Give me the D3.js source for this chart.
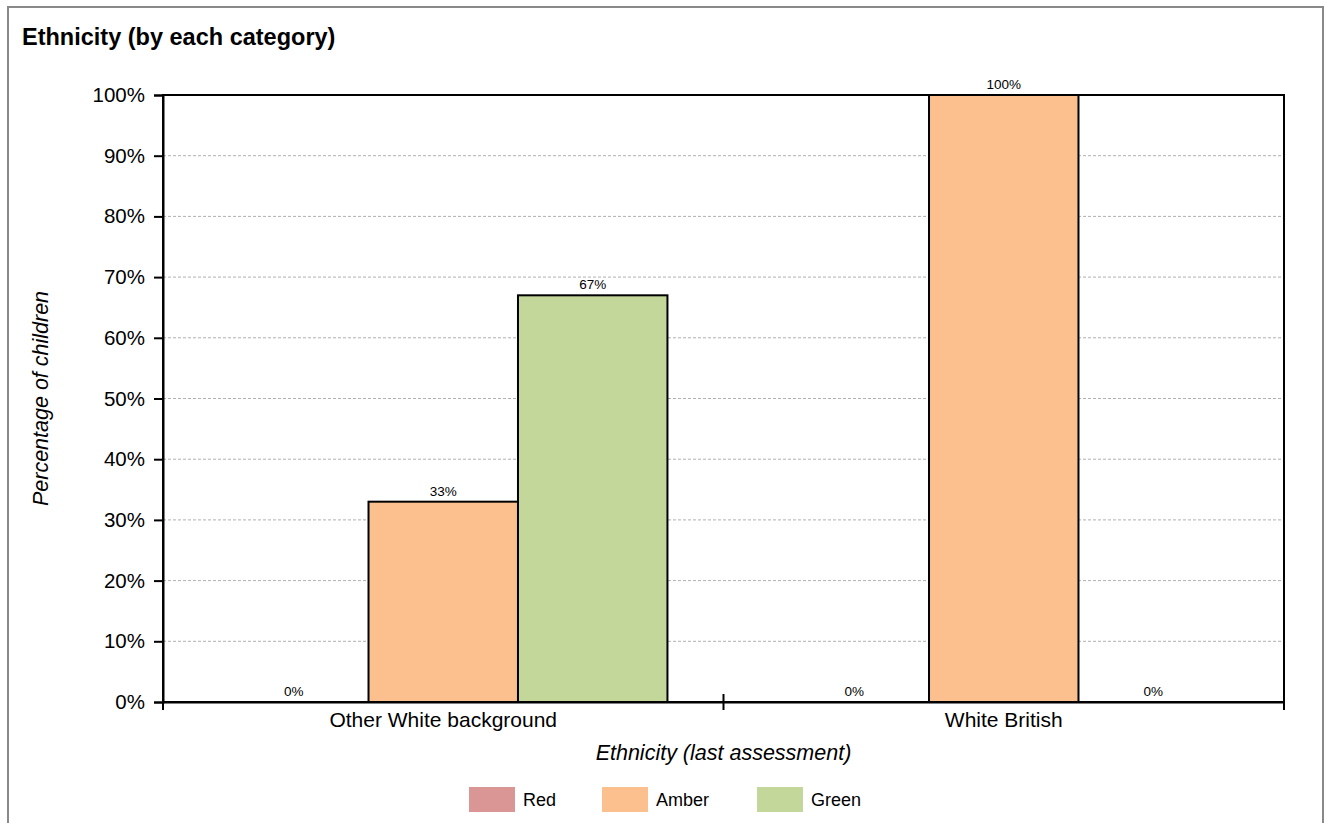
<!DOCTYPE html>
<html>
<head>
<meta charset="utf-8">
<script src="https://cdn.jsdelivr.net/npm/d3@7"></script>
<style>
  html, body { margin: 0; padding: 0; background: #fff; }
  svg { display: block; font-family: "Liberation Sans", Arial, sans-serif; }
</style>
</head>
<body>
<svg id="chart" width="1330" height="823"></svg>
<script>
const title = "Ethnicity (by each category)";
const categories = ["Other White background", "White British"];
const seriesNames = ["Red", "Amber", "Green"];
const seriesColors = ["#da9694", "#fcc08e", "#c4d79b"];
const redValues = [0, 0];
const amberValues = [33, 100];
const greenValues = [67, 0];
const yTicks = [0, 10, 20, 30, 40, 50, 60, 70, 80, 90, 100];
const xTitle = "Ethnicity (last assessment)";
const yTitle = "Percentage of children";

const seriesValues = [redValues, amberValues, greenValues];

const svg = d3.select("#chart");
const W = 1330, H = 823;
const m = { left: 163, right: 46, top: 95, bottom: 121 };
const pw = W - m.left - m.right, ph = H - m.top - m.bottom;

// outer frame
svg.append("rect").attr("x", 8).attr("y", 7).attr("width", 1315).attr("height", 840)
  .attr("fill", "#fff").attr("stroke", "#898989").attr("stroke-width", 2);

svg.append("text").attr("x", 22).attr("y", 45).text(title)
  .attr("font-size", 23.5).attr("font-weight", "bold").attr("fill", "#000");

const g = svg.append("g").attr("transform", `translate(${m.left},${m.top})`);

const x0 = d3.scaleBand().domain(categories).range([0, pw]).padding(0);
const x1 = d3.scaleBand().domain(seriesNames)
  .range([x0.bandwidth() * 0.1, x0.bandwidth() * 0.9]).padding(0);
const y = d3.scaleLinear().domain([0, 100]).range([ph, 0]);

// grid
g.append("g").selectAll("line").data(yTicks.filter(t => t > 0 && t < 100)).join("line")
  .attr("x1", 0).attr("x2", pw).attr("y1", d => y(d)).attr("y2", d => y(d))
  .attr("stroke", "#b0b0b0").attr("stroke-width", 1).attr("stroke-dasharray", "3,2");

// bars
const groups = g.append("g").selectAll("g").data(categories).join("g")
  .attr("transform", d => `translate(${x0(d)},0)`);
groups.each(function(cat, ci) {
  const gg = d3.select(this);
  seriesNames.forEach((s, si) => {
    const v = seriesValues[si][ci];
    if (v > 0) {
      gg.append("rect").attr("x", x1(s)).attr("y", y(v))
        .attr("width", x1.bandwidth()).attr("height", y(0) - y(v))
        .attr("fill", seriesColors[si]).attr("stroke", "#000").attr("stroke-width", 2);
    }
    gg.append("text").attr("x", x1(s) + x1.bandwidth() / 2).attr("y", y(v) - 6)
      .attr("text-anchor", "middle").attr("font-size", 13.5).attr("fill", "#000")
      .text(v + "%");
  });
});

// plot border
g.append("rect").attr("x", 0).attr("y", 0).attr("width", pw).attr("height", ph)
  .attr("fill", "none").attr("stroke", "#000").attr("stroke-width", 2);

// y axis
const yAxis = g.append("g").call(d3.axisLeft(y).tickValues(yTicks).tickFormat(d => d + "%").tickSize(9).tickPadding(9));
yAxis.select(".domain").attr("stroke", "#000").attr("stroke-width", 2);
yAxis.selectAll(".tick line").attr("stroke", "#000").attr("stroke-width", 2);
yAxis.selectAll(".tick text").attr("font-size", 20.5).attr("fill", "#000")
  .attr("font-family", "Liberation Sans, Arial, sans-serif");

// x axis
const xAxis = g.append("g").attr("transform", `translate(0,${ph})`)
  .call(d3.axisBottom(x0).tickSize(0).tickPadding(10));
xAxis.select(".domain").attr("stroke", "#000").attr("stroke-width", 2);
xAxis.selectAll(".tick text").attr("font-size", 21).attr("fill", "#000")
  .attr("font-family", "Liberation Sans, Arial, sans-serif");
// category boundary ticks
const bounds = [0, ...categories.map(c => x0(c) + x0.bandwidth())];
g.append("g").selectAll("line").data(bounds).join("line")
  .attr("x1", d => d).attr("x2", d => d)
  .attr("y1", (d, i) => (i === 0 || i === bounds.length - 1) ? ph : ph - 8)
  .attr("y2", ph + 8)
  .attr("stroke", "#000").attr("stroke-width", 2);

// axis titles
svg.append("text").attr("x", m.left + pw / 2).attr("y", 760)
  .attr("text-anchor", "middle").attr("font-size", 21.5).attr("font-style", "italic")
  .text(xTitle);
svg.append("text").attr("transform", `translate(48,${m.top + ph / 2}) rotate(-90)`)
  .attr("text-anchor", "middle").attr("font-size", 21.5).attr("font-style", "italic")
  .text(yTitle);

// legend
const legendX = [469, 602, 757];
const lg = svg.append("g");
seriesNames.forEach((s, i) => {
  lg.append("rect").attr("x", legendX[i]).attr("y", 787).attr("width", 46).attr("height", 25)
    .attr("fill", seriesColors[i]);
  lg.append("text").attr("x", legendX[i] + 54).attr("y", 806).attr("font-size", 18)
    .attr("fill", "#000").text(s);
});
</script>
</body>
</html>
